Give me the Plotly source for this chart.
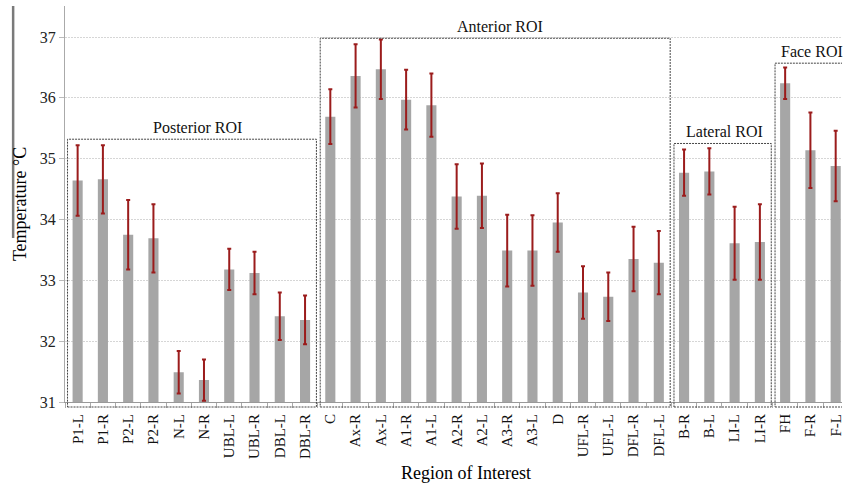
import plotly.graph_objects as go

# ---------------- data ----------------
categories = ["P1-L", "P1-R", "P2-L", "P2-R", "N-L", "N-R", "UBL-L", "UBL-R", "DBL-L", "DBL-R",
              "C", "Ax-R", "Ax-L", "A1-R", "A1-L", "A2-R", "A2-L", "A3-R", "A3-L", "D",
              "UFL-R", "UFL-L", "DFL-R", "DFL-L",
              "B-R", "B-L", "LI-L", "LI-R",
              "FH", "F-R", "F-L"]
mean_temp = [34.64, 34.66, 33.75, 33.69, 31.49, 31.36, 33.18, 33.12, 32.41, 32.35,
             35.69, 36.36, 36.47, 35.97, 35.88, 34.38, 34.39, 33.49, 33.49, 33.95,
             32.80, 32.73, 33.35, 33.29,
             34.77, 34.79, 33.61, 33.63,
             36.24, 35.14, 34.88]
sd_temp = [0.58, 0.56, 0.57, 0.56, 0.35, 0.34, 0.34, 0.35, 0.39, 0.40,
           0.45, 0.52, 0.49, 0.49, 0.52, 0.53, 0.53, 0.59, 0.58, 0.48,
           0.43, 0.40, 0.53, 0.52,
           0.38, 0.38, 0.60, 0.62,
           0.26, 0.62, 0.58]
group_names = ["Posterior ROI", "Anterior ROI", "Lateral ROI", "Face ROI"]
group_first = [0, 10, 24, 28]
group_last = [9, 23, 27, 30]
y_ticks = [31, 32, 33, 34, 35, 36, 37]

# ---------------- layout constants ----------------
W, H = 844, 485
ML, MR, MT, MB = 65, 0, 6, 83
Y_RANGE = [31, 37.51]
X_RANGE = [-0.5, 30.25]
box_tops = [35.32, 36.98, 35.25, 36.57]
label_x = [4.74, 16.72, 25.6, 29.05]
label_gap = 0.2
FONT = "Liberation Serif, Times New Roman, serif"

fig = go.Figure()
fig.add_trace(go.Bar(
    x=categories, y=mean_temp,
    marker=dict(color="#a6a6a6", line=dict(width=0)),
    width=0.4,
    error_y=dict(type="data", array=sd_temp, visible=True,
                 color="#9b1c1c", thickness=2, width=2),
    showlegend=False,
))

plot_h = H - MT - MB
def to_paper(v):
    return (v - Y_RANGE[0]) / (Y_RANGE[1] - Y_RANGE[0])

shapes = []
annotations = []
for name, a, b, top, lx in zip(group_names, group_first, group_last, box_tops, label_x):
    shapes.append(dict(type="rect", xref="x", yref="paper",
                       x0=a - 0.4, x1=b + 0.45, y0=-5 / plot_h, y1=to_paper(top),
                       line=dict(color="#444444", width=1, dash="2px,1px"),
                       fillcolor="rgba(0,0,0,0)", layer="above"))
    annotations.append(dict(text=name, xref="x", yref="y", x=lx, y=top + label_gap,
                            showarrow=False, font=dict(family=FONT, size=16, color="#111"),
                            xanchor="center", yanchor="middle"))

# stray vertical bar at left of the y title
shapes.append(dict(type="line", xref="paper", yref="paper",
                   x0=(13 - ML) / (W - ML - MR), x1=(13 - ML) / (W - ML - MR),
                   y0=(H - MB - 238) / plot_h, y1=1.0,
                   line=dict(color="#7a7a7a", width=2.5)))

annotations.append(dict(text="Temperature °C", xref="paper", yref="paper",
                        x=(20 - ML) / (W - ML - MR), y=0.5, textangle=-90,
                        showarrow=False, font=dict(family=FONT, size=18, color="#000"),
                        xanchor="center", yanchor="middle"))
annotations.append(dict(text="Region of Interest", xref="paper", yref="paper",
                        x=(467.5 - ML) / (W - ML - MR), y=-(473 - (H - MB)) / plot_h,
                        showarrow=False, font=dict(family=FONT, size=18, color="#000"),
                        xanchor="center", yanchor="middle"))

fig.update_layout(
    width=W, height=H,
    margin=dict(l=ML, r=MR, t=MT, b=MB, pad=0),
    paper_bgcolor="white", plot_bgcolor="white",
    font=dict(family=FONT, color="#222"),
    shapes=shapes, annotations=annotations,
    xaxis=dict(type="category", range=X_RANGE, tickangle=-90,
               tickfont=dict(family=FONT, size=15, color="#111"),
               ticklabelstandoff=5,
               showline=True, linecolor="#999999", linewidth=1,
               ticks="outside", tickson="boundaries", ticklen=5, tickcolor="#aaaaaa",
               showgrid=False, zeroline=False),
    yaxis=dict(range=Y_RANGE, tickvals=y_ticks,
               tickfont=dict(family=FONT, size=16, color="#222"),
               showline=True, linecolor="#aaaaaa", linewidth=1,
               ticks="outside", ticklen=5, tickcolor="#bbbbbb",
               showgrid=True, gridcolor="#d6d6d6", griddash="2px,1px", gridwidth=1,
               zeroline=False),
)

fig.write_html("out.html")
